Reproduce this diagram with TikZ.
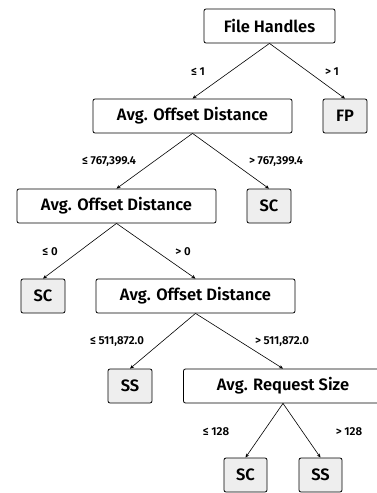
\documentclass[tikz,border=0pt]{standalone}
\usepackage{fontspec}
\setmainfont{Fira Sans}[BoldFont={Fira Sans SemiBold}]
\usepackage{xcolor}
\usetikzlibrary{arrows.meta}

\definecolor{leafgray}{HTML}{EEEEEE}

\tikzset{
	split/.style={draw, line width=0.8pt, rounded corners=2pt, fill=white, inner sep=0pt,
		minimum width=199pt, minimum height=34pt, font=\fontsize{16.5}{18}\selectfont\bfseries},
	leaf/.style={draw, line width=0.8pt, rounded corners=2pt, fill=leafgray, inner sep=0pt,
		minimum width=44pt, minimum height=34pt, font=\fontsize{16.5}{18}\selectfont\bfseries},
	cond/.style={inner sep=0pt, font=\fontsize{11.5}{13}\selectfont\bfseries},
	edge/.style={-{Stealth[length=4pt,width=3.5pt]}, line width=0.6pt}
}

\begin{document}
\begin{tikzpicture}[x=1pt,y=-1pt]
	
	% page frame
	\useasboundingbox (0,0) rectangle (376,493);
	
	% --- Split nodes ---
	\node[split, minimum width=131pt] (fh) at (269.5,26) {File Handles};
	\node[split] (aod1) at (192.5,116) {Avg. Offset Distance};
	\node[split] (aod2) at (116.5,206) {Avg. Offset Distance};
	\node[split] (aod3) at (195.5,296) {Avg. Offset Distance};
	\node[split] (ars) at (283,386) {Avg. Request Size};
	
	% --- Leaf nodes ---
	\node[leaf] (fp) at (345,116) {FP};
	\node[leaf] (sc1) at (269,206) {SC};
	\node[leaf] (sc2) at (43,296) {SC};
	\node[leaf] (ss1) at (130,386) {SS};
	\node[leaf, minimum width=43pt] (sc3) at (245.5,475) {SC};
	\node[leaf, minimum width=43pt] (ss2) at (320.5,475) {SS};
	
	% --- Branch conditions ---
	\node[cond] (c1) at (198,72) {≤ 1};
	\node[cond] (c2) at (332,72) {> 1};
	\node[cond] (c3) at (109,162) {≤ 767,399.4};
	\node[cond] (c4) at (276,162) {> 767,399.4};
	\node[cond] (c5) at (50,252) {≤ 0};
	\node[cond] (c6) at (183,252) {> 0};
	\node[cond] (c7) at (117,342) {≤ 511,872.0};
	\node[cond] (c8) at (282,342) {> 511,872.0};
	\node[cond] (c9) at (216,432) {≤ 128};
	\node[cond] (c10) at (349,432) {> 128};
	
	% --- Edges ---
	\draw[edge] (fh.south) -- (aod1.north);
	\draw[edge] (fh.south) -- (fp.north);
	\draw[edge] (aod1.south) -- (aod2.north);
	\draw[edge] (aod1.south) -- (sc1.north);
	\draw[edge] (aod2.south) -- (sc2.north);
	\draw[edge] (aod2.south) -- (aod3.north);
	\draw[edge] (aod3.south) -- (ss1.north);
	\draw[edge] (aod3.south) -- (ars.north);
	\draw[edge] (ars.south) -- (sc3.north);
	\draw[edge] (ars.south) -- (ss2.north);
	
\end{tikzpicture}
\end{document}
